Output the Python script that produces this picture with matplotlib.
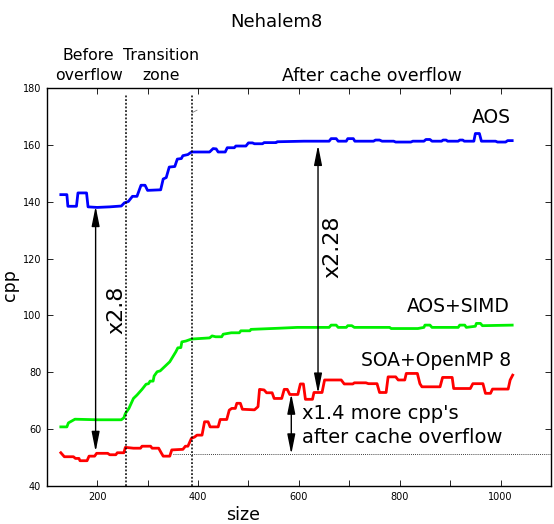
import matplotlib
matplotlib.use("Agg")
import matplotlib.pyplot as plt
from matplotlib.ticker import MultipleLocator

# ---- data ----
aos_x = [128, 140, 142, 159, 162, 179, 182, 200, 225, 248, 254, 262, 270, 279, 287, 295, 300, 326, 331, 337,
         343, 354, 359, 367, 370, 380, 387, 423, 430, 436, 440, 454, 458, 472, 475, 495, 500, 508, 512, 528,
         531, 555, 557, 610, 660, 664, 674, 678, 694, 697, 708, 711, 748, 752, 760, 765, 788, 792, 822, 826,
         848, 852, 860, 864, 883, 886, 892, 895, 916, 919, 925, 928, 947, 950, 958, 962, 990, 994, 1010, 1014, 1023]
aos_y = [142.5, 142.5, 138.4, 138.4, 143.1, 143.1, 138.2, 138.0, 138.2, 138.5, 139.6, 140.1, 141.9, 141.9, 145.8, 145.8, 144.0, 144.2, 148.0, 148.5,
         152.2, 152.4, 155.0, 155.2, 156.2, 156.6, 157.5, 157.5, 158.7, 158.6, 157.5, 157.5, 159.0, 159.0, 159.6, 159.6, 160.7, 160.7, 160.4, 160.4,
         160.8, 160.8, 161.1, 161.3, 161.3, 162.2, 162.2, 161.3, 161.3, 162.2, 162.2, 161.3, 161.3, 161.7, 161.7, 161.3, 161.3, 161.0, 161.0, 161.3,
         161.3, 161.9, 161.9, 161.3, 161.3, 161.7, 161.7, 161.3, 161.3, 161.7, 161.7, 161.3, 161.3, 164.0, 164.0, 161.3, 161.3, 161.0, 161.0, 161.5, 161.5]

simd_x = [128, 140, 143, 156, 200, 248, 253, 256, 263, 272, 279, 289, 297, 302, 305, 311, 313, 319, 325, 344,
          356, 360, 366, 368, 376, 387, 423, 428, 435, 447, 450, 466, 482, 485, 503, 505, 560, 597, 660, 664,
          674, 678, 694, 697, 705, 710, 780, 783, 836, 848, 850, 860, 864, 916, 919, 929, 932, 950, 952, 960, 964, 1023]
simd_y = [60.8, 60.8, 62.2, 63.5, 63.3, 63.3, 64.0, 65.5, 67.3, 70.8, 72.0, 74.0, 75.8, 76.0, 76.9, 76.9, 78.7, 80.2, 80.5, 83.7,
          87.2, 88.6, 88.7, 90.7, 91.0, 91.7, 92.1, 92.8, 92.5, 92.5, 93.4, 93.9, 93.9, 94.6, 94.6, 95.1, 95.5, 95.8, 95.8, 96.6,
          96.6, 95.8, 95.8, 96.4, 96.4, 95.8, 95.8, 95.4, 95.4, 95.8, 96.6, 96.6, 95.8, 95.8, 96.6, 96.6, 95.8, 96.2, 97.2, 97.2, 96.4, 96.6]

soa_x = [128, 135, 153, 157, 164, 166, 180, 184, 195, 199, 221, 225, 237, 240, 253, 256, 272, 286, 289, 306,
         309, 322, 327, 331, 344, 348, 370, 375, 380, 387, 393, 398, 408, 413, 420, 424, 440, 444, 457, 462,
         467, 474, 477, 484, 488, 512, 519, 522, 531, 536, 547, 551, 566, 571, 577, 582, 598, 603, 609, 613,
         627, 630, 646, 651, 684, 690, 707, 710, 733, 738, 755, 760, 773, 777, 792, 797, 810, 813, 835, 840,
         844, 880, 885, 904, 907, 940, 945, 965, 970, 980, 984, 1015, 1019, 1024]
soa_y = [51.7, 50.3, 50.3, 49.7, 49.7, 48.9, 48.9, 50.5, 50.5, 51.5, 51.5, 51.0, 51.0, 51.7, 51.7, 53.6, 53.3, 53.3, 54.0, 54.0,
         53.3, 53.3, 51.7, 50.5, 50.5, 52.7, 52.9, 54.0, 54.0, 56.8, 57.2, 57.9, 57.9, 62.6, 62.6, 60.8, 60.8, 63.4, 63.4, 66.7,
         67.3, 67.3, 69.1, 69.1, 67.0, 66.8, 67.9, 74.0, 73.8, 72.8, 72.8, 70.8, 70.8, 74.0, 74.0, 72.2, 72.2, 75.9, 75.9, 70.5,
         70.5, 72.9, 72.9, 77.3, 77.3, 75.9, 75.9, 76.3, 76.3, 76.0, 76.0, 72.9, 72.9, 78.4, 78.4, 77.3, 77.3, 79.6, 79.6, 76.0,
         74.9, 74.9, 78.2, 78.2, 74.3, 74.3, 76.0, 76.0, 72.6, 72.6, 74.1, 74.1, 77.3, 79.0]

zone_bounds = [257, 388]
base_level = 51.2
arrow_28 = (197, 52.1, 138.4)
arrow_228 = (638, 72.6, 159.9)
arrow_14 = (585, 51.2, 72.4)

# ---- figure ----
fig = plt.figure(figsize=(5.54, 5.24), dpi=100)
ax = fig.add_axes([0.0843, 0.0725, 0.9103, 0.7595])

ax.plot(aos_x, aos_y, color="#0000ff", lw=2.0)
ax.plot(simd_x, simd_y, color="#00f000", lw=2.0)
ax.plot(soa_x, soa_y, color="#ff0000", lw=2.0)

for xb in zone_bounds:
    ax.plot([xb, xb], [40, 178], color="black", ls=(0, (1.2, 1.2)), lw=1.1)
ax.plot([350, 1100], [base_level, base_level], color="black", ls=(0, (1, 1.5)), lw=0.6)

# tiny artifact near top
ax.plot([388, 398], [171.3, 172.2], color="gray", lw=0.6)

ax.set_xlim(100, 1100)
ax.set_ylim(40, 180)
ax.xaxis.set_major_locator(MultipleLocator(200))
ax.xaxis.set_minor_locator(MultipleLocator(100))
ax.yaxis.set_major_locator(MultipleLocator(20))
ax.tick_params(which="both", direction="in", top=True, right=True, labelsize=7, width=0.6)
ax.tick_params(which="major", length=4, pad=4)
ax.tick_params(which="minor", length=4)
for s in ax.spines.values():
    s.set_linewidth(1.0)

arrowprops = dict(arrowstyle="<|-|>,head_length=0.8,head_width=0.16", color="black",
                  lw=1.0, shrinkA=0, shrinkB=0, mutation_scale=15)
for (ax_x, y0, y1) in [arrow_28, arrow_228, arrow_14]:
    ax.annotate("", xy=(ax_x, y1), xytext=(ax_x, y0), arrowprops=arrowprops)

ax.text(239, 102, "x2.8", rotation=90, fontsize=16, ha="center", va="center")
ax.text(667, 124, "x2.28", rotation=90, fontsize=16, ha="center", va="center")

ax.text(1021, 169.7, "AOS", fontsize=13.5, ha="right", va="center")
ax.text(1019, 103, "AOS+SIMD", fontsize=13.5, ha="right", va="center")
ax.text(1021, 84.3, "SOA+OpenMP 8", fontsize=13.5, ha="right", va="center")
ax.text(607, 61.4, "x1.4 more cpp's\nafter cache overflow", fontsize=14, ha="left", va="center",
        linespacing=1.35)

ax.set_xlabel("size", fontsize=12.5)
ax.set_ylabel("cpp", fontsize=12.5)
ax.xaxis.set_label_coords(0.389, -0.072)
ax.xaxis.label.set_verticalalignment("center")
ax.yaxis.set_label_coords(-0.073, 0.505)
ax.yaxis.label.set_verticalalignment("center")

fig.text(276.6 / 554, 1 - 22 / 524, "Nehalem8", fontsize=13, ha="center", va="center")
fig.text(88.6 / 554, 1 - 65.5 / 524, "Before\noverflow", fontsize=11.3, ha="center", va="center",
         linespacing=1.35)
fig.text(161 / 554, 1 - 65.5 / 524, "Transition\nzone", fontsize=11.3, ha="center", va="center",
         linespacing=1.35)
fig.text(371.5 / 554, 1 - 76 / 524, "After cache overflow", fontsize=12.5, ha="center", va="center")

fig.savefig("out.png", dpi=100)
